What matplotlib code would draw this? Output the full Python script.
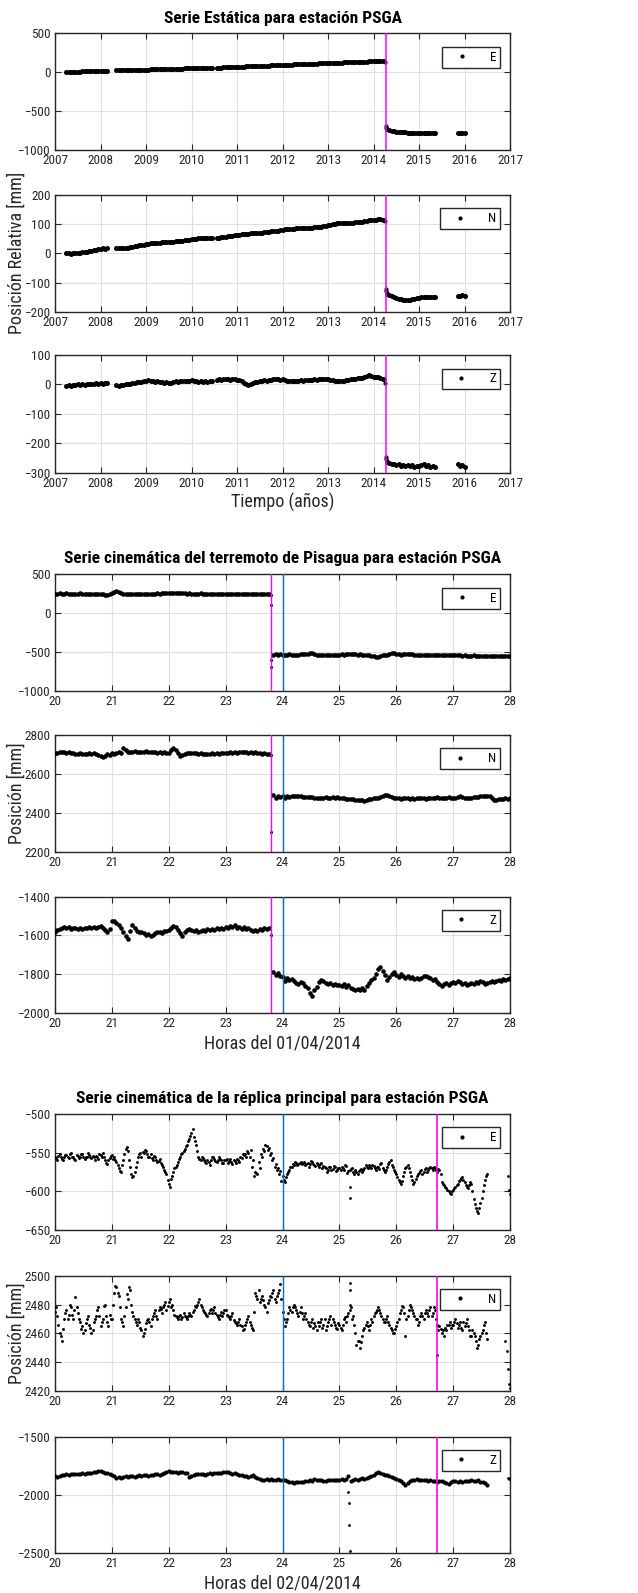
import numpy as np
import matplotlib.pyplot as plt
from matplotlib.lines import Line2D

plt.rcParams['font.family'] = ['Liberation Sans Narrow', 'Arial Narrow', 'Roboto Condensed',
                               'PT Sans Narrow', 'Liberation Sans', 'DejaVu Sans']

# ---------------- serie estatica (anos) ----------------
est_step = 0.05
est_pre_starts = [2007.25, 2008.35, 2010.55]
est_pre_counts = [19, 43, 74]
est_post_starts = [2014.30, 2015.85]
est_post_counts = [22, 4]
est_t_extra = [2014.23, 2014.25, 2014.27, 2014.28, 2014.29]
est_sismo = 2014.27

est_e_pre = [
    2, 3, 4, 5, 6, 7, 8, 9, 10, 11, 12, 13, 14, 15, 16, 17, 18, 19, 20,
    22, 23, 24, 24, 25, 26, 27, 28, 29, 30, 30, 31, 32, 33, 34, 35, 36, 36, 37, 38,
    39, 40, 41, 42, 42, 43, 44, 45, 46, 47, 48, 48, 49, 50, 51, 52, 53, 54, 54, 55,
    56, 57, 57,
    58, 59, 60, 62, 63, 64, 65, 66, 68, 69, 70, 71, 72, 74, 75, 76, 77, 78, 80, 81,
    82, 83, 84, 86, 87, 88, 89, 90, 92, 93, 94, 95, 96, 98, 99, 100, 101, 102, 104, 105,
    106, 107, 108, 110, 111, 112, 113, 114, 116, 117, 118, 119, 120, 122, 123, 124, 125, 126, 128, 129,
    130, 131, 132, 134, 135, 136, 137, 138, 140, 141, 142, 143, 145, 146]
est_e_post = [-735, -748, -755, -760, -765, -768, -771, -773, -775, -776, -777,
              -778, -779, -780, -781, -782, -782, -783, -784, -784, -785, -785,
              -786, -785, -787, -786]
est_e_extra = [140, 128, -690, -712, -725]

est_n_pre = [
    0, 0, -1, 1, 0, 2, 2, 3, 4, 5, 7, 9, 10, 12, 14, 16, 17, 16, 17,
    19, 18, 19, 20, 19, 20, 21, 22, 24, 25, 27, 28, 30,
    31, 32, 34, 35, 36, 37, 37, 38, 38, 39, 39, 39, 40, 41, 42, 43, 44, 45, 46, 47,
    48, 49, 50, 51, 52, 52, 53, 53, 54, 53,
    52, 53, 55, 56, 57, 59, 60, 61, 62,
    63, 64, 65, 66, 67, 68, 69, 69, 70, 70, 71, 71, 72, 73, 74, 75, 76, 77, 78, 79,
    80, 82, 83, 84, 85, 85, 86, 86, 86, 86, 87, 87, 87, 88, 89, 90, 91, 92, 94, 95,
    96, 98, 100, 102, 103, 103, 103, 104, 104, 104, 105, 105, 106, 107, 108, 109, 110, 112, 113, 114,
    115, 116, 117, 117, 115]
est_n_post = [-138, -142, -146, -149, -152, -155, -157, -159, -160, -160, -159,
              -157, -155, -153, -152, -151, -150, -151, -150, -151, -150, -151,
              -147, -145, -144, -146]
est_n_extra = [116, 111, -122, -130, -135]

est_z_pre = [
    -4, -2, -5, -1, -3, 0, -2, 1, -1, 2, 0, 3, 1, 4, 2, 5, 3, 6, 4,
    -3, -5, -1, -2, 2, 0, 3, 5, 4, 7, 9, 8, 11,
    12, 14, 10, 13, 9, 11, 7, 8, 5, 7, 4, 6, 8, 10, 9, 12, 11, 13, 10, 12,
    14, 11, 13, 9, 10, 8, 12, 9, 13, 11,
    16, 18, 15, 19, 17, 18, 16, 19, 17,
    16, 14, 10, 5, 0, -3, 2, 5, 8, 7, 10, 12, 14, 13, 16, 15, 18, 17, 19, 16,
    18, 15, 13, 11, 10, 12, 11, 13, 14, 12, 15, 14, 16, 15, 17, 16, 18, 17, 19, 18,
    17, 16, 14, 13, 12, 11, 13, 12, 15, 16, 18, 17, 20, 21, 23, 22, 25, 27, 33, 28,
    26, 24, 25, 22, 20]
est_z_post = [-262, -267, -270, -272, -274, -271, -276, -273, -277, -274, -278,
              -275, -279, -276, -277, -274, -272, -278, -275, -280, -277, -282,
              -272, -278, -275, -281]
est_z_extra = [20, 5, -245, -255, -260]

# ---------------- terremoto 01/04/2014 (horas) ----------------
g2_step = 0.04
g2_pre_start = 20.0
g2_post_start = 23.84
g2_t_jump = 23.80
g2_sismo = 23.79
g2_ref = 24.0

g2_e_pre = [
    252, 250, 253, 249, 251, 254, 250, 252, 248, 251, 249, 253, 250, 247, 250, 252, 249, 251, 248, 246, 250, 245, 238, 232, 240,
    258, 275, 285, 278, 262, 250, 246, 248, 245, 247, 243, 246, 249, 245, 248, 250, 247, 252, 249, 251, 253, 250, 255, 258, 262,
    265, 262, 258, 255, 260, 262, 257, 255, 252, 254, 250, 252, 249, 251, 253, 250, 248, 252, 250, 249, 251, 248, 250, 252, 249,
    250, 248, 251, 249, 247, 250, 248, 246, 249, 247, 245, 248, 244, 246, 243, 245, 242, 244, 241, 240]
g2_e_post = [
    -535, -530, -538, -532,
    -535, -540, -537, -533, -538, -536, -540, -535, -532, -530, -528, -533, -520, -515, -525, -538, -540, -537, -542, -540, -538, -535, -537, -540, -538,
    -535, -532, -534, -530, -533, -528, -530, -532, -535, -533, -536, -538, -540, -545, -550, -555, -560, -562, -555, -545, -540, -535, -528, -520, -515,
    -522, -530, -535, -532, -528, -525, -530, -533, -535, -538, -536, -540, -538, -542, -540, -538, -540, -543, -541, -545, -543, -540, -542, -545, -543,
    -545, -542, -546, -544, -548, -545, -547, -550, -548, -546, -550, -548, -552, -558, -555, -550, -548, -551, -549, -552, -550, -553, -551, -555, -552,
    -556]
g2_e_jump = [236, 100, -600, -690]

g2_n_pre = [
    2705, 2708, 2712, 2714, 2712, 2710, 2713, 2708, 2706, 2704, 2702, 2705, 2703, 2700, 2702, 2705, 2703, 2706, 2700, 2697, 2690, 2688, 2692, 2700, 2698,
    2706, 2702, 2708, 2712, 2705, 2732, 2722, 2715, 2712, 2714, 2716, 2713, 2715, 2712, 2714, 2716, 2713, 2711, 2714, 2712, 2710, 2712, 2709, 2711, 2708,
    2710, 2722, 2733, 2725, 2705, 2690, 2695, 2703, 2708, 2706, 2708, 2705, 2707, 2703, 2705, 2702, 2704, 2701, 2703, 2705, 2702, 2706, 2704, 2707, 2705,
    2710, 2708, 2711, 2709, 2712, 2710, 2713, 2711, 2714, 2712, 2710, 2713, 2709, 2711, 2708, 2706, 2704, 2707, 2702, 2700]
g2_n_post = [
    2490, 2478, 2488, 2480,
    2485, 2478, 2487, 2483, 2488, 2486, 2484, 2487, 2485, 2483, 2480, 2482, 2479, 2481, 2478, 2476, 2478, 2475, 2477, 2479, 2476, 2478, 2480, 2477, 2479,
    2476, 2474, 2477, 2473, 2471, 2473, 2470, 2468, 2466, 2468, 2465, 2463, 2466, 2469, 2471, 2474, 2476, 2478, 2481, 2484, 2490, 2493, 2488, 2482, 2477,
    2474, 2476, 2473, 2475, 2477, 2474, 2472, 2475, 2473, 2476, 2474, 2477, 2475, 2473, 2476, 2478, 2475, 2477, 2480, 2477, 2475, 2478, 2476, 2479, 2477,
    2478, 2476, 2480, 2484, 2479, 2477, 2475, 2478, 2476, 2480, 2482, 2479, 2484, 2487, 2485, 2488, 2484, 2478, 2468, 2465, 2470, 2473, 2471, 2474, 2472,
    2476]
g2_n_jump = [2695, 2300]

g2_z_pre = [
    -1580, -1572, -1565, -1560, -1558, -1562, -1556, -1565, -1560, -1563, -1568, -1562, -1566, -1560, -1564, -1558, -1562, -1556, -1560, -1555, -1552, -1560, -1572, -1580, -1565,
    -1528, -1525, -1535, -1545, -1560, -1580, -1605, -1620, -1575, -1545, -1560, -1575, -1585, -1580, -1590, -1600, -1595, -1605, -1598, -1590, -1585, -1580, -1588, -1575, -1578,
    -1570, -1560, -1550, -1558, -1570, -1590, -1605, -1585, -1572, -1565, -1570, -1578, -1572, -1580, -1575, -1570, -1576, -1568, -1574, -1565, -1570, -1562, -1568, -1560, -1565,
    -1555, -1562, -1550, -1558, -1545, -1562, -1555, -1565, -1558, -1568, -1560, -1572, -1578, -1570, -1575, -1565, -1570, -1562, -1568, -1563]
g2_z_post = [
    -1788, -1805, -1795, -1812,
    -1815, -1838, -1822, -1830, -1825, -1835, -1845, -1850, -1842, -1848, -1860, -1870, -1900, -1915, -1880, -1865, -1840, -1830, -1838, -1845, -1852, -1848, -1855, -1850, -1858,
    -1856, -1862, -1852, -1865, -1858, -1870, -1878, -1885, -1875, -1880, -1870, -1885, -1862, -1845, -1830, -1818, -1800, -1775, -1762, -1785, -1805, -1830, -1815, -1800, -1790,
    -1805, -1815, -1800, -1810, -1820, -1812, -1822, -1815, -1825, -1818, -1828, -1820, -1812, -1808, -1816, -1822, -1830, -1825, -1840, -1850, -1860, -1852, -1848, -1855, -1845,
    -1840, -1848, -1835, -1842, -1850, -1845, -1858, -1852, -1845, -1850, -1840, -1845, -1838, -1842, -1850, -1845, -1840, -1835, -1842, -1838, -1830, -1835, -1828, -1832, -1826,
    -1822]
g2_z_jump = [-1600]

# ---------------- replica 02/04/2014 (horas) ----------------
# dos muestreos intercalados: a en 20.00, 20.04, ... y b en 20.02, 20.06, ...
g3_step = 0.04
g3_start_a = 20.0
g3_start_b = 20.02
g3_ref = 24.0
g3_sismo = 26.72

g3_e_a = [
    -555, -560, -552, -558, -556, -553, -557, -551, -555, -559, -554, -556, -552, -558, -555, -553, -557, -556, -554, -558, -553, -551, -560, -565, -557,
    -553, -556, -562, -570, -575, -560, -545, -548, -568, -582, -575, -562, -552, -555, -550, -548, -556, -552, -560, -556, -562, -558, -566, -572, -578,
    -590, -584, -575, -568, -562, -556, -550, -545, -540, -532, -525, -530, -540, -555, -560, -557, -562, -560, -566, -555, -558, -562, -556, -560, -563,
    -560, -563, -558, -565, -561, -558, -562, -557, -553, -556, -550, -546, -560, -575, -578, -570, -556, -548, -542, -544, -550, -557, -565, -570, -574,
    -580, -588, -578, -572, -568, -566, -563, -565, -562, -564, -566, -563, -565, -562, -566, -564, -568, -563, -567, -570, -573, -568, -571, -569, -572,
    -570, -568, -572, -567, -574, -571, -575, -573, -577, -572, -575, -570, -568, -566, -570, -567, -572, -568, -565, -570, -575, -568, -562, -566, -572,
    -578, -585, -590, -580, -570, -566, -575, -585, -588, -580, -576, -572, -575, -570, -573, -568, -572, -570, -575, -573, -588, -592, -596, -600, -603,
    -598, -594, -590, -585, -582, -588, -595, -592, -590, -610, -622, -628, -615, -600, -585, -578]
g3_e_b = [
    -557, -554, -556, -560, -553, -555, -552, -556, -558, -553, -557, -552, -555, -556, -551, -556, -554, -559, -556, -552, -555, -556, -563, -560, -554,
    -558, -559, -566, -574, -566, -552, -543, -560, -578, -580, -568, -556, -550, -549, -546, -552, -555, -557, -554, -560, -561, -563, -568, -575, -585,
    -595, -580, -570, -566, -558, -552, -548, -542, -535, -528, -520, -535, -548, -558, -556, -560, -563, -562, -560, -556, -561, -559, -558, -564, -560,
    -558, -561, -562, -560, -563, -559, -555, -552, -552, -548, -555, -568, -580, -576, -562, -552, -545, -540, -546, -553, -560, -568, -572, -578, -586,
    -585, -582, -575, -569, -565, -562, -566, -563, -565, -562, -565, -568, -561, -565, -567, -566, -565, -570, -568, -575, -569, -572, -567, -574, -570,
    -572, -570, -566, -576, -572, -570, -578, -575, -574, -571, -573, -566, -570, -568, -566, -570, -569, -571, -563, -573, -572, -565, -560, -569, -575,
    -582, -588, -586, -575, -568, -570, -580, -590, -584, -578, -574, -577, -571, -575, -570, -570, -568, -573, -571, -577, -590, -594, -598, -602, -600,
    -596, -592, -586, -583, -585, -592, -596, -588, -600, -616, -626, -622, -608, -592, -580]
g3_e_extra_t = [25.18, 25.18, 27.96, 27.98, 28.0]
g3_e_extra = [-595, -608, -580, -598, -603]

g3_n_a = [
    2475, 2472, 2460, 2455, 2470, 2476, 2473, 2478, 2470, 2485, 2474, 2468, 2465, 2462, 2470, 2466, 2460, 2468, 2472, 2478, 2465, 2470, 2480, 2468, 2473,
    2470, 2488, 2492, 2486, 2470, 2465, 2478, 2484, 2490, 2475, 2470, 2466, 2468, 2462, 2460, 2467, 2470, 2465, 2472, 2476, 2470, 2478, 2474, 2480, 2476,
    2482, 2478, 2476, 2472, 2470, 2473, 2471, 2472, 2470, 2474, 2472, 2476, 2478, 2482, 2480, 2476, 2474, 2472, 2476, 2474, 2478, 2473, 2470, 2475, 2474,
    2476, 2472, 2470, 2474, 2468, 2466, 2470, 2465, 2463, 2468, 2472, 2466, 2462, 2488, 2484, 2482, 2486, 2480, 2475, 2483, 2485, 2490, 2482, 2488, 2494,
    2475, 2465, 2470, 2478, 2475, 2480, 2476, 2472, 2478, 2470, 2474, 2468, 2465, 2470, 2467, 2462, 2465, 2470, 2466, 2462, 2468, 2472, 2470, 2466, 2463,
    2466, 2462, 2470, 2468, 2474, 2478, 2472, 2460, 2455, 2450, 2458, 2464, 2468, 2462, 2470, 2472, 2475, 2478, 2474, 2470, 2468, 2472, 2466, 2462, 2460,
    2465, 2470, 2476, 2478, 2458, 2472, 2480, 2476, 2472, 2470, 2468, 2474, 2470, 2476, 2472, 2478, 2474, 2476, 2466, 2465, 2460, 2458, 2462, 2466, 2464,
    2466, 2470, 2464, 2468, 2462, 2465, 2470, 2462, 2458, 2460, 2455, 2452, 2458, 2462, 2468, 2456]
g3_n_b = [
    2478, 2466, 2458, 2463, 2474, 2470, 2480, 2473, 2476, 2478, 2470, 2463, 2460, 2467, 2472, 2464, 2462, 2470, 2476, 2472, 2468, 2479, 2472, 2465, 2470,
    2480, 2493, 2488, 2478, 2468, 2472, 2487, 2492, 2480, 2472, 2468, 2470, 2464, 2458, 2463, 2469, 2468, 2470, 2474, 2472, 2476, 2477, 2478, 2482, 2479,
    2484, 2480, 2473, 2471, 2472, 2470, 2474, 2471, 2472, 2473, 2475, 2479, 2480, 2484, 2478, 2475, 2473, 2474, 2477, 2476, 2474, 2471, 2473, 2472, 2476,
    2473, 2471, 2472, 2469, 2467, 2468, 2466, 2462, 2466, 2470, 2468, 2464, 2475, 2486, 2490, 2484, 2483, 2478, 2481, 2486, 2488, 2484, 2486, 2490, 2484,
    2470, 2468, 2474, 2476, 2478, 2478, 2474, 2475, 2474, 2472, 2470, 2466, 2468, 2464, 2465, 2468, 2468, 2464, 2470, 2465, 2470, 2466, 2468, 2464, 2467,
    2464, 2466, 2471, 2472, 2476, 2470, 2466, 2452, 2455, 2454, 2462, 2466, 2465, 2466, 2468, 2474, 2476, 2476, 2472, 2468, 2470, 2468, 2464, 2460, 2463,
    2468, 2474, 2479, 2474, 2470, 2476, 2478, 2474, 2470, 2466, 2472, 2472, 2474, 2474, 2476, 2472, 2478, 2470, 2462, 2463, 2462, 2464, 2466, 2468, 2466,
    2468, 2467, 2466, 2464, 2468, 2467, 2465, 2458, 2462, 2458, 2450, 2456, 2460, 2466, 2460]
g3_n_extra_t = [25.18, 25.18, 25.18, 26.72, 27.92, 27.94, 27.96, 27.98, 28.0]
g3_n_extra = [2495, 2490, 2480, 2445, 2455, 2448, 2435, 2425, 2422]

g3_z_a = [
    -1835, -1842, -1838, -1830, -1825, -1822, -1828, -1820, -1818, -1824, -1816, -1820, -1812, -1818, -1815, -1808, -1812, -1805, -1800, -1795, -1792, -1800, -1810, -1815, -1820,
    -1828, -1840, -1855, -1845, -1850, -1842, -1838, -1845, -1840, -1835, -1842, -1838, -1832, -1836, -1830, -1828, -1833, -1826, -1830, -1822, -1818, -1825, -1820, -1812, -1800,
    -1792, -1800, -1805, -1800, -1808, -1802, -1806, -1810, -1815, -1845, -1835, -1828, -1822, -1818, -1824, -1820, -1826, -1822, -1815, -1818, -1812, -1808, -1815, -1810, -1805,
    -1800, -1806, -1812, -1818, -1815, -1822, -1825, -1830, -1835, -1840, -1845, -1838, -1832, -1842, -1852, -1860, -1868, -1872, -1865, -1870, -1862, -1868, -1872, -1865, -1870,
    -1875, -1872, -1880, -1888, -1892, -1895, -1890, -1888, -1892, -1885, -1880, -1876, -1872, -1878, -1866, -1870, -1875, -1872, -1880, -1876, -1870, -1872, -1868, -1875, -1871,
    -1868, -1865, -1870, -1862, -1835, -1880, -1872, -1865, -1870, -1860, -1855, -1862, -1850, -1845, -1838, -1825, -1810, -1800, -1812, -1820, -1830, -1825, -1840, -1848, -1855,
    -1862, -1870, -1880, -1900, -1912, -1895, -1880, -1875, -1870, -1865, -1872, -1868, -1875, -1870, -1878, -1874, -1880, -1876, -1885, -1878, -1882, -1888, -1895, -1902, -1890,
    -1880, -1876, -1885, -1880, -1888, -1878, -1884, -1880, -1875, -1882, -1878, -1872, -1885, -1890, -1898, -1912]
g3_z_extra_t = [25.16, 25.17, 25.17, 25.18, 27.96, 27.98, 28.0]
g3_z_extra = [-1970, -2070, -2260, -2480, -1850, -1860, -1855]

MAGENTA = '#ff00ff'
AZUL = '#0072bd'
GRIS = '#262626'

W, H = 638, 1593
fig = plt.figure(figsize=(W / 100, H / 100), dpi=100)


def make_ax(top, bottom):
    return fig.add_axes([55 / W, 1 - bottom / H, 455 / W, (bottom - top) / H])


def seg_times(starts, counts, step):
    return np.concatenate([s + step * np.arange(n) for s, n in zip(starts, counts)])


def style(ax, xlim, xticks, ylim, yticks, comp):
    ax.set_xlim(*xlim)
    ax.set_ylim(*ylim)
    ax.set_xticks(xticks)
    ax.set_yticks(yticks)
    ax.grid(True, color='#dedede', lw=0.8)
    ax.set_axisbelow(True)
    ax.tick_params(direction='in', top=True, right=True, length=4, width=0.8,
                   color=GRIS, labelcolor=GRIS, labelsize=9.5, pad=3)
    for sp in ax.spines.values():
        sp.set_color(GRIS)
        sp.set_linewidth(1.0)
    h = Line2D([], [], ls='none', marker='o', ms=2.0, color='k')
    leg = ax.legend([h], [comp], loc='upper right', bbox_to_anchor=(0.978, 0.885),
                    borderaxespad=0, fancybox=False, framealpha=1, edgecolor=GRIS,
                    handlelength=2.4, handletextpad=0.9, borderpad=0.3,
                    fontsize=9.5, markerfirst=True)
    leg.get_frame().set_linewidth(1.0)


def dots(ax, t, v, ms):
    ax.plot(t, v, ls='none', marker='o', ms=ms, color='k', mew=0, zorder=3)


# ---- grupo 1: serie estatica ----
t_pre = seg_times(est_pre_starts, est_pre_counts, est_step)
t_post = seg_times(est_post_starts, est_post_counts, est_step)
est_rows = [(33.3, 150, est_e_pre, est_e_post, est_e_extra, (-1000, 500), [-1000, -500, 0, 500], 'E'),
            (195, 311.7, est_n_pre, est_n_post, est_n_extra, (-200, 200), [-200, -100, 0, 100, 200], 'N'),
            (355, 472.7, est_z_pre, est_z_post, est_z_extra, (-300, 100), [-300, -200, -100, 0, 100], 'Z')]
for top, bot, pre, post, extra, ylim, yt, comp in est_rows:
    ax = make_ax(top, bot)
    dots(ax, t_pre, pre, 3.6)
    dots(ax, t_post, post, 3.6)
    dots(ax, est_t_extra, extra, 3.0)
    ax.axvline(est_sismo, color=MAGENTA, lw=1.1, zorder=4)
    style(ax, (2007, 2017), range(2007, 2018), ylim, yt, comp)

# ---- grupo 2: terremoto ----
t2_pre = g2_pre_start + g2_step * np.arange(len(g2_e_pre))
t2_post = g2_post_start + g2_step * np.arange(len(g2_e_post))
g2_rows = [(574.3, 690.7, g2_e_pre, g2_e_post, g2_e_jump, (-1000, 500), [-1000, -500, 0, 500], 'E'),
           (735, 851.7, g2_n_pre, g2_n_post, g2_n_jump, (2200, 2800), [2200, 2400, 2600, 2800], 'N'),
           (896.7, 1012.7, g2_z_pre, g2_z_post, g2_z_jump, (-2000, -1400), [-2000, -1800, -1600, -1400], 'Z')]
for top, bot, pre, post, jump, ylim, yt, comp in g2_rows:
    ax = make_ax(top, bot)
    dots(ax, t2_pre, pre, 3.3)
    dots(ax, t2_post, post, 3.3)
    dots(ax, [g2_t_jump] * len(jump), jump, 2.2)
    ax.axvline(g2_sismo, color=MAGENTA, lw=1.0, zorder=4)
    ax.axvline(g2_ref, color=AZUL, lw=1.0, zorder=4)
    style(ax, (20, 28), range(20, 29), ylim, yt, comp)

# ---- grupo 3: replica ----
t3a = g3_start_a + g3_step * np.arange(len(g3_e_a))
t3b = g3_start_b + g3_step * np.arange(len(g3_e_b))
g3_rows = [(1114, 1230, g3_e_a, g3_e_b, g3_e_extra_t, g3_e_extra, (-650, -500), [-650, -600, -550, -500], 'E', 2.1),
           (1275.7, 1391, g3_n_a, g3_n_b, g3_n_extra_t, g3_n_extra, (2420, 2500), [2420, 2440, 2460, 2480, 2500], 'N', 2.1),
           (1436.7, 1553.3, g3_z_a, None, g3_z_extra_t, g3_z_extra, (-2500, -1500), [-2500, -2000, -1500], 'Z', 3.0)]
for top, bot, va, vb, xt, xv, ylim, yt, comp, ms in g3_rows:
    ax = make_ax(top, bot)
    dots(ax, t3a, va, ms)
    if vb is not None:
        dots(ax, t3b, vb, ms)
    dots(ax, xt, xv, 2.0)
    ax.axvline(g3_ref, color=AZUL, lw=1.0, zorder=4)
    ax.axvline(g3_sismo, color=MAGENTA, lw=1.2, zorder=4)
    style(ax, (20, 28), range(20, 29), ylim, yt, comp)

xc = (55 + 455 / 2) / W
titulos = [(18, 'Serie Estática para estación PSGA'),
           (559, 'Serie cinemática del terremoto de Pisagua para estación PSGA'),
           (1099, 'Serie cinemática de la réplica principal para estación PSGA')]
for y, txt in titulos:
    fig.text(xc, 1 - y / H, txt, ha='center', va='center', fontsize=12.5, weight='bold')

for y, txt in [(502, 'Tiempo (años)'), (1043, 'Horas del 01/04/2014'), (1583, 'Horas del 02/04/2014')]:
    fig.text(xc, 1 - y / H, txt, ha='center', va='center', fontsize=13, color=GRIS)

for y, txt in [(253, 'Posición Relativa [mm]'), (793, 'Posición [mm]'), (1333, 'Posición [mm]')]:
    fig.text(17 / W, 1 - y / H, txt, ha='center', va='center', rotation=90, fontsize=13, color=GRIS)

fig.savefig('out.png', dpi=100)
